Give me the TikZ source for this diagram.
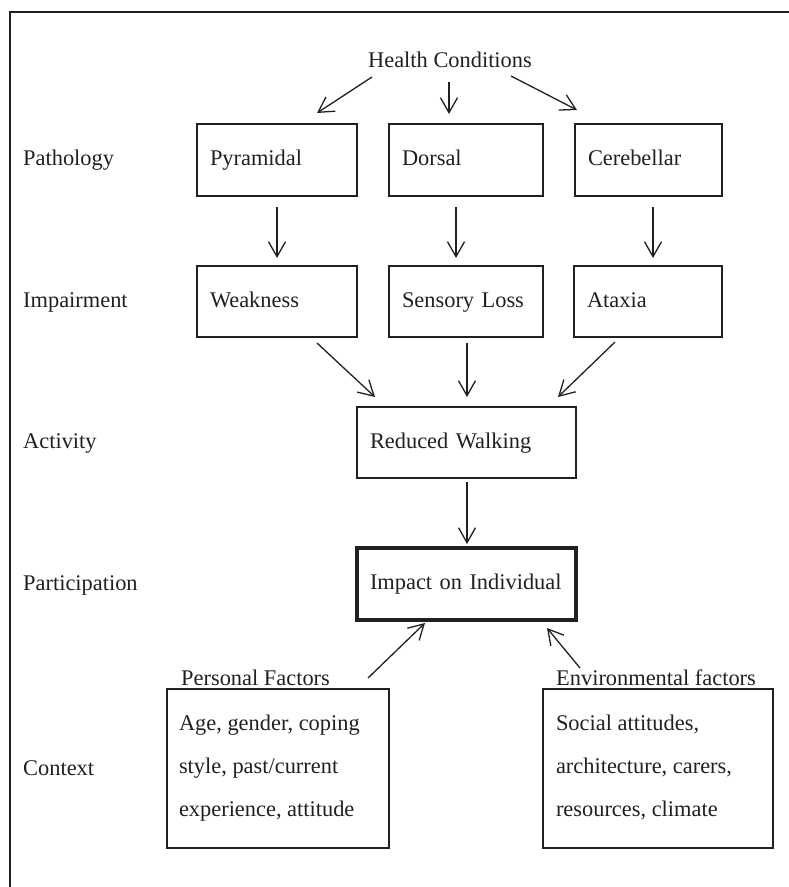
\documentclass[tikz,border=0pt]{standalone}
\usepackage{fontspec}
\setmainfont{Liberation Serif}
\usetikzlibrary{arrows.meta}
\definecolor{ink}{RGB}{35,31,32}
\newcommand{\dfont}{\fontsize{22.4}{26}\selectfont}
\begin{document}
\begin{tikzpicture}[x=1pt,y=-1pt, font=\dfont, text=ink,
  box/.style={draw=ink, line width=1.6pt, inner xsep=13pt, inner ysep=0pt, align=left, text height=15.5pt, text depth=4.5pt},
  ctxbox/.style={draw=ink, line width=1.6pt, inner ysep=0pt, text height=15.5pt, text depth=92.5pt, minimum height=159pt},
  arr/.style={draw=ink, line width=1.3pt, -{Straight Barb[length=15pt,width=17pt]}},
  lbl/.style={anchor=base west, inner sep=0pt}]
\useasboundingbox (0,0) rectangle (789,887);
% frame
\draw[ink, line width=2.2pt] (10,887) -- (10,12) -- (789,12);

% title
\node[anchor=base] (hc) at (450,67) {Health Conditions};

% row labels
\node[lbl] (lpath) at (23,165) {Pathology};
\node[lbl] (limp) at (23,307) {Impairment};
\node[lbl] (lact) at (23,448) {Activity};
\node[lbl] (lpart) at (23,590) {Participation};
\node[lbl] (lctx) at (23,775) {Context};

% pathology
\node[box, text width=134pt, minimum height=72pt] (pyr) at (277,160) {Pyramidal};
\node[box, text width=128pt, minimum height=72pt] (dor) at (466,160) {Dorsal};
\node[box, text width=121pt, minimum height=72pt] (cer) at (648.5,160) {Cerebellar};

% impairment
\node[box, text width=134pt, minimum height=71pt] (weak) at (277,301.5) {Weakness};
\node[box, text width=128pt, minimum height=71pt] (sens) at (466,301.5) {Sensory Loss};
\node[box, text width=122pt, minimum height=71pt] (atax) at (648,301.5) {Ataxia};

% activity / participation
\node[box, text width=193pt, minimum height=71pt] (rw) at (466.5,442.5) {Reduced Walking};
\node[box, line width=3.6pt, text width=193pt, minimum height=72pt] (imp) at (466.5,584) {Impact on Individual};

% context
\node[lbl] (pflbl) at (181,685) {Personal Factors};
\node[lbl] (eflbl) at (556,685) {Environmental factors};
\node[ctxbox, inner xsep=12pt, minimum width=222pt] (pf) at (278,768.5)
  {\parbox[t]{198pt}{\raggedright\fontsize{22.4}{43}\selectfont Age, gender, coping\\style, past/current\\experience, attitude}};
\node[ctxbox, inner xsep=13pt, minimum width=230pt] (ef) at (658,768.5)
  {\parbox[t]{204pt}{\raggedright\fontsize{22.4}{43}\selectfont Social attitudes,\\architecture, carers,\\resources, climate}};

% arrow end points
\coordinate (h1a) at (372,77);  \coordinate (h1b) at (317,113);
\coordinate (h2a) at (449,82);  \coordinate (h2b) at (449,114);
\coordinate (h3a) at (511,76);  \coordinate (h3b) at (577,110);
\coordinate (p1a) at (277,207); \coordinate (p1b) at (277,258);
\coordinate (p2a) at (456,207); \coordinate (p2b) at (456,258);
\coordinate (p3a) at (653,207); \coordinate (p3b) at (653,258);
\coordinate (i1a) at (317,343); \coordinate (i1b) at (375,397);
\coordinate (i2a) at (467,343); \coordinate (i2b) at (467,397);
\coordinate (i3a) at (615,342); \coordinate (i3b) at (558,397);
\coordinate (a1a) at (467,482); \coordinate (a1b) at (467,544);
\coordinate (c1a) at (368,678); \coordinate (c1b) at (425,623);
\coordinate (c2a) at (580,668); \coordinate (c2b) at (547,628);

\draw[arr] (h1a) -- (h1b);
\draw[arr] (h2a) -- (h2b);
\draw[arr] (h3a) -- (h3b);
\draw[arr] (p1a) -- (p1b);
\draw[arr] (p2a) -- (p2b);
\draw[arr] (p3a) -- (p3b);
\draw[arr] (i1a) -- (i1b);
\draw[arr] (i2a) -- (i2b);
\draw[arr] (i3a) -- (i3b);
\draw[arr] (a1a) -- (a1b);
\draw[arr] (c1a) -- (c1b);
\draw[arr] (c2a) -- (c2b);
\end{tikzpicture}
\end{document}
